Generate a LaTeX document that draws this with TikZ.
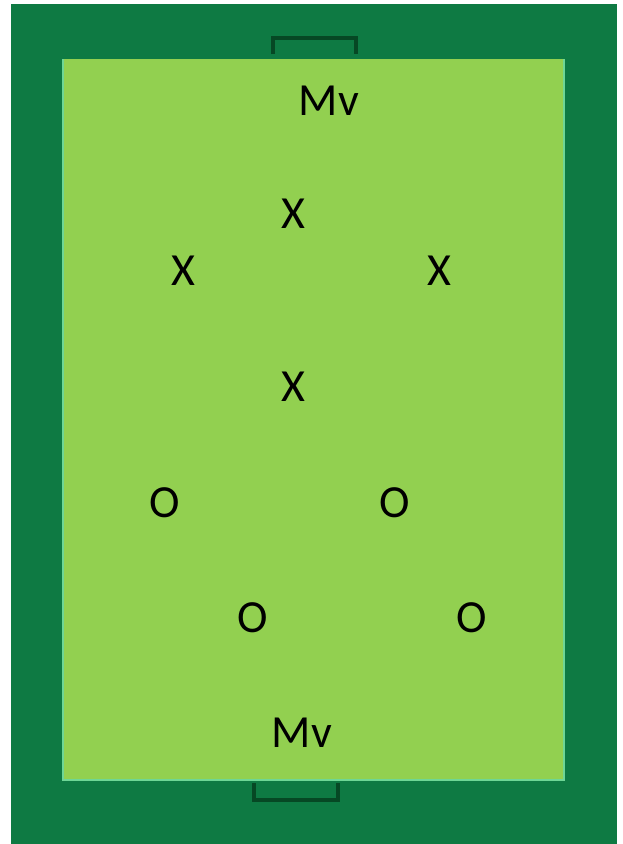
\documentclass[tikz,border=0pt]{standalone}
\usepackage{fontspec}
\setmainfont{Carlito}
\usetikzlibrary{positioning}
\definecolor{pitchdark}{RGB}{14,122,67}
\definecolor{pitchlight}{RGB}{146,208,80}
\definecolor{pitchline}{RGB}{110,214,150}
\definecolor{goalline}{RGB}{6,72,36}
\tikzset{
  player/.style={
    inner sep=0pt,
    font=\fontsize{46}{46}\selectfont
  },
  goal/.style={
    draw=goalline,
    line width=3.2pt
  }
}
\begin{document}
\begin{tikzpicture}[x=1pt,y=-1pt]
\useasboundingbox (0,0) rectangle (623,844);
% surrounds and pitch
\fill[pitchdark] (11,4) rectangle (617,844);
\fill[pitchlight] (63,59) rectangle (564,780);
\draw[pitchline, line width=2.2pt] (63,59) -- (63,780) -- (564,780) -- (564,59);
% goals
\draw[goal] (273,54) -- (273,38) -- (356,38) -- (356,54);
\draw[goal] (254,783) -- (254,800) -- (338,800) -- (338,783);

\node[player] (mvtop) at (329,101) {Mv};
\node[player] (xtop) at (293,214) {X};
\node[player] (xleft) at (183,271) {X};
\node[player] (xright) at (439,271) {X};
\node[player] (xmid) at (293,387) {X};
\node[player] (oleft) at (165,503) {O};
\node[player] (oright) at (395,503) {O};
\node[player] (olow) at (253,618) {O};
\node[player] (olowright) at (472,618) {O};
\node[player] (mvbottom) at (302,733) {Mv};
\end{tikzpicture}
\end{document}
